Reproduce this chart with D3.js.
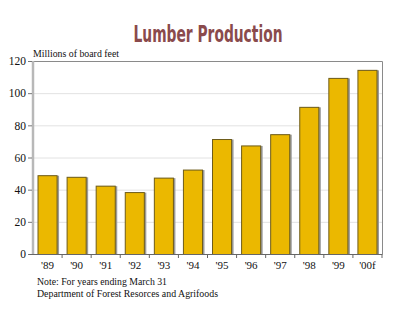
<!DOCTYPE html>
<html><head><meta charset="utf-8">
<script src="https://cdn.jsdelivr.net/npm/d3@7"></script>
<style>body{margin:0;background:#fff}svg{display:block}
.serif{font-family:"Liberation Serif","Times New Roman",Times,serif}
.title{font-family:"DejaVu Sans Condensed","DejaVu Sans",sans-serif;font-stretch:condensed}
</style>
</head><body>
<script>
const categories = ["'89","'90","'91","'92","'93","'94","'95","'96","'97","'98","'99","'00f"];
const values = [49, 48, 42.5, 38.5, 47.5, 52.5, 71.5, 67.5, 74.5, 91.5, 109.5, 114.5];
const yTicks = [0, 20, 40, 60, 80, 100, 120];

const W = 396, H = 323;
const m = {left: 33, right: 14, top: 61, bottom: 69};
const svg = d3.select("body").append("svg").attr("width", W).attr("height", H);

const x = d3.scaleBand().domain(categories).range([m.left, W - m.right]).paddingInner(0.31).paddingOuter(0.155);
const y = d3.scaleLinear().domain([0, 120]).range([H - m.bottom, m.top]);

// gridlines
svg.append("g").selectAll("line").data(yTicks.slice(1, -1)).join("line")
  .attr("x1", m.left).attr("x2", W - m.right)
  .attr("y1", d => y(d) + 0.5).attr("y2", d => y(d) + 0.5)
  .attr("stroke", "#e2e2e2").attr("stroke-width", 1);

// frame top/right
svg.append("path")
  .attr("d", `M${m.left},${y(120)+0.5}H${W - m.right + 0.5}V${y(0)}`)
  .attr("fill", "none").attr("stroke", "#8a8a8a").attr("stroke-width", 1);

// bars shadow
svg.append("g").selectAll("rect").data(values).join("rect")
  .attr("x", (d, i) => x(categories[i]) + 1.5)
  .attr("y", d => y(d) + 0.5)
  .attr("width", x.bandwidth())
  .attr("height", d => y(0) - y(d))
  .attr("fill", "#9a9a9a");
// bars
svg.append("g").selectAll("rect").data(values).join("rect")
  .attr("x", (d, i) => x(categories[i]) + 0.5)
  .attr("y", d => y(d) + 0.5)
  .attr("width", x.bandwidth() - 1)
  .attr("height", d => y(0) - y(d))
  .attr("fill", "#ebb800").attr("stroke", "#6e5c1a").attr("stroke-width", 1);

// left axis
svg.append("line").attr("x1", m.left).attr("x2", m.left)
  .attr("y1", y(120)).attr("y2", y(0))
  .attr("stroke", "#b8b8b8").attr("stroke-width", 2.5);

const yAxis = svg.append("g").attr("transform", `translate(${m.left - 1},0)`)
  .call(d3.axisLeft(y).tickValues(yTicks).tickSize(4).tickPadding(2));
yAxis.select(".domain").remove();
yAxis.selectAll("line").attr("stroke", "#777");
yAxis.selectAll("text").attr("class", "serif").attr("font-family", null).attr("font-size", 11.5).attr("fill", "#111");

// bottom axis
const bounds = categories.map(c => x(c) - x.step() * x.paddingInner() / 2).concat([W - m.right]);
svg.append("line").attr("x1", m.left - 4).attr("x2", W - m.right + 0.5)
  .attr("y1", y(0) + 0.5).attr("y2", y(0) + 0.5).attr("stroke", "#666").attr("stroke-width", 1.2);
svg.append("g").selectAll("line").data(bounds.slice(1)).join("line")
  .attr("x1", d => d).attr("x2", d => d).attr("y1", y(0)).attr("y2", y(0) + 4)
  .attr("stroke", "#666");
svg.append("g").selectAll("text").data(categories).join("text")
  .attr("class", "serif")
  .attr("x", d => x(d) + x.bandwidth() / 2).attr("y", y(0) + 15)
  .attr("text-anchor", "middle").attr("font-size", 11).attr("fill", "#111")
  .text(d => d);

// title
svg.append("text").attr("class", "title").attr("x", 208).attr("y", 42).attr("text-anchor", "middle")
  .attr("font-weight", "bold").attr("font-size", 23).attr("fill", "#8a4a4c")
  .attr("textLength", 149).attr("lengthAdjust", "spacingAndGlyphs")
  .text("Lumber Production");

svg.append("text").attr("class", "serif").attr("x", 33).attr("y", 57).attr("font-size", 11).attr("fill", "#111")
  .attr("textLength", 86).attr("lengthAdjust", "spacingAndGlyphs")
  .text("Millions of board feet");
svg.append("text").attr("class", "serif").attr("x", 37).attr("y", 285).attr("font-size", 11).attr("fill", "#111")
  .attr("textLength", 130).attr("lengthAdjust", "spacingAndGlyphs")
  .text("Note: For years ending March 31");
svg.append("text").attr("class", "serif").attr("x", 37).attr("y", 297).attr("font-size", 11).attr("fill", "#111")
  .attr("textLength", 181).attr("lengthAdjust", "spacingAndGlyphs")
  .text("Department of Forest Resorces and Agrifoods");
</script>
</body></html>
